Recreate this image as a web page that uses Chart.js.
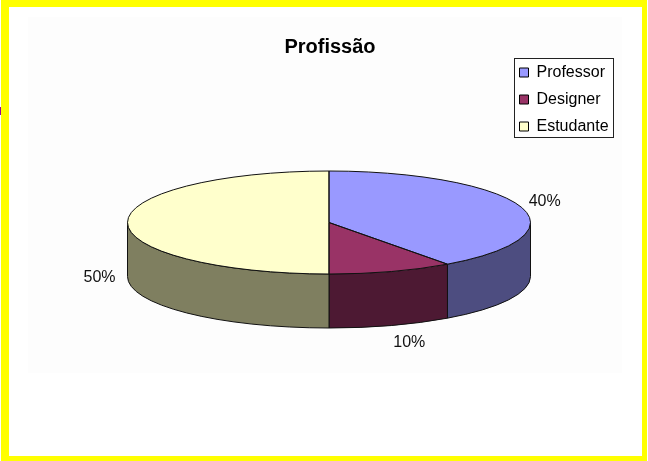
<!DOCTYPE html>
<html>
<head>
<meta charset="utf-8">
<title>Profissão</title>
<script src="https://cdn.jsdelivr.net/npm/chart.js@4"></script>
<style>
    html, body { margin: 0; padding: 0; background: #fff; }
    canvas { display: block; }
</style>
</head>
<body>
<canvas id="pieChart" width="648" height="461"></canvas>
<script>
const categories = ['Professor', 'Designer', 'Estudante'];
const shares = [40, 10, 50];
const topColors = ['#9999ff', '#993366', '#ffffcc'];
const sideColors = ['#4d4d80', '#4d1933', '#7f7f60'];

// the tilted view of the pie
const centerX = 329;
const centerY = 222.5;
const radiusX = 201.5;
const radiusY = 51.5;
const depth = 54;

// label nudges from the rim point of each slice
const labelNudges = [[24, -5], [18, 17], [-28, 1]];

const tiltPlugin = {
    id: 'tilt',
    afterLayout(chart) {
        const title = chart.titleBlock;
        title.left = 230;
        title.right = 430;
        title.top = 35;
        title.bottom = 59;

        const legend = chart.legend;
        const w = legend.right - legend.left;
        const h = legend.bottom - legend.top;
        legend.left = 508.5;
        legend.right = 508.5 + w;
        legend.top = 53.5;
        legend.bottom = 53.5 + h;
    },
    beforeDraw(chart) {
        const ctx = chart.ctx;
        ctx.save();
        ctx.fillStyle = '#ffffff';
        ctx.fillRect(0, 0, 648, 461);
        ctx.fillStyle = '#fdfdfd';
        ctx.fillRect(28, 17, 594, 356);
        ctx.fillStyle = '#ffff00';
        ctx.fillRect(1, 0, 646, 7);
        ctx.fillRect(1, 456, 646, 5);
        ctx.fillRect(1, 0, 8, 461);
        ctx.fillRect(642, 0, 5, 461);
        ctx.fillStyle = '#990099';
        ctx.fillRect(0, 107, 1, 8);
        // legend frame
        ctx.fillStyle = '#ffffff';
        ctx.fillRect(514, 58, 100, 80);
        ctx.strokeStyle = '#222';
        ctx.lineWidth = 1;
        ctx.strokeRect(514.5, 58.5, 99, 79);
        ctx.restore();
    },
    beforeDatasetsDraw(chart) {
        const ctx = chart.ctx;
        const arcs = chart.getDatasetMeta(0).data;

        // side walls, only the front half of the rim shows
        ctx.save();
        arcs.forEach((arc, i) => {
            const from = Math.max(arc.startAngle, 0);
            const to = Math.min(arc.endAngle, Math.PI);
            if (to <= from) return;
            ctx.beginPath();
            ctx.ellipse(centerX, centerY, radiusX, radiusY, 0, from, to);
            ctx.ellipse(centerX, centerY + depth, radiusX, radiusY, 0, to, from, true);
            ctx.closePath();
            ctx.fillStyle = sideColors[i];
            ctx.fill();
            ctx.strokeStyle = '#111';
            ctx.lineWidth = 1;
            ctx.stroke();
        });
        ctx.restore();

        // squash the pie the library draws
        const el = arcs[0];
        ctx.save();
        ctx.translate(centerX, centerY);
        ctx.scale(radiusX / el.outerRadius, radiusY / el.outerRadius);
        ctx.translate(-el.x, -el.y);
    },
    afterDatasetsDraw(chart) {
        const ctx = chart.ctx;
        ctx.restore();

        const arcs = chart.getDatasetMeta(0).data;
        ctx.save();
        ctx.strokeStyle = '#111';
        ctx.lineWidth = 1;
        arcs.forEach((arc) => {
            ctx.beginPath();
            ctx.moveTo(centerX, centerY);
            ctx.ellipse(centerX, centerY, radiusX, radiusY, 0, arc.startAngle, arc.endAngle);
            ctx.closePath();
            ctx.stroke();
        });

        ctx.fillStyle = '#111';
        ctx.font = '16px "Liberation Sans", Arial, sans-serif';
        ctx.textAlign = 'center';
        ctx.textBaseline = 'middle';
        arcs.forEach((arc, i) => {
            const mid = (arc.startAngle + arc.endAngle) / 2;
            const rimY = centerY + Math.sin(mid) * radiusY;
            const x = centerX + Math.cos(mid) * radiusX + labelNudges[i][0];
            // labels on the front half sit under the wall
            const y = rimY + (Math.sin(mid) > -0.01 ? depth : 0) + labelNudges[i][1];
            ctx.fillText(shares[i] + '%', x, y);
        });
        ctx.restore();
    }
};

new Chart(document.getElementById('pieChart'), {
    type: 'pie',
    data: {
        labels: categories,
        datasets: [{
            data: shares,
            backgroundColor: topColors,
            borderWidth: 0
        }]
    },
    options: {
        responsive: false,
        animation: false,
        plugins: {
            title: {
                display: true,
                text: 'Profissão',
                color: '#000',
                padding: 0,
                font: { family: '"Liberation Sans", Arial, sans-serif', size: 20, weight: 'bold' }
            },
            legend: {
                position: 'right',
                align: 'start',
                labels: {
                    color: '#111',
                    boxWidth: 9,
                    boxHeight: 9,
                    padding: 11,
                    font: { family: '"Liberation Sans", Arial, sans-serif', size: 16 },
                    generateLabels: () => categories.map((name, i) => ({
                        text: name,
                        fillStyle: topColors[i],
                        strokeStyle: '#000',
                        lineWidth: 1,
                        index: i
                    }))
                }
            },
            tooltip: { enabled: false }
        }
    },
    plugins: [tiltPlugin]
});
</script>
</body>
</html>
